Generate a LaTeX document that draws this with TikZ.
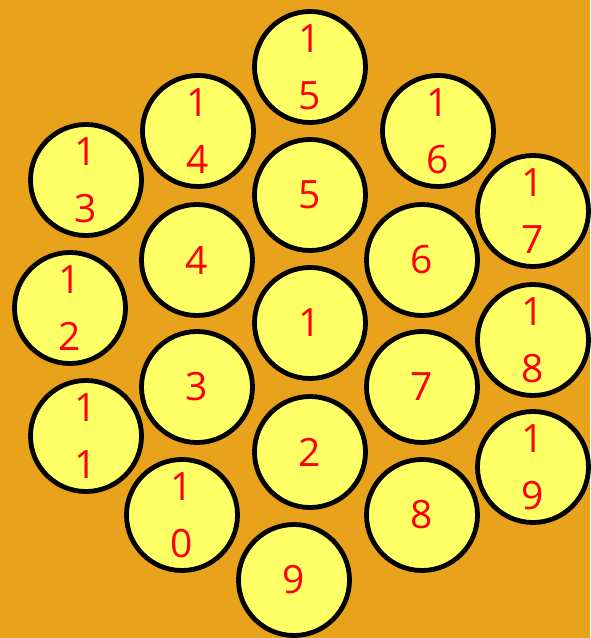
\documentclass[tikz,border=0pt]{standalone}
\usepackage{fontspec}
\setmainfont{Open Sans}
\definecolor{bg}{HTML}{E8A21C}
\definecolor{ball}{HTML}{FFFF66}
\definecolor{num}{HTML}{FF0000}
\begin{document}
\begin{tikzpicture}[x=1pt,y=-1pt,
  ball/.style={circle,draw=black,line width=4.8pt,fill=ball,minimum size=111pt,inner sep=0pt,
    text=num,align=center,font=\fontsize{39}{57}\selectfont}]
\fill[bg] (0,0) rectangle (590,638);
\useasboundingbox (0,0) rectangle (590,638);
\node[ball] (n1) at (310,323) {1};
\node[ball] (n2) at (310,452) {2};
\node[ball] (n3) at (197,387) {3};
\node[ball] (n4) at (197,260) {4};
\node[ball] (n5) at (310,195) {5};
\node[ball] (n6) at (422,260) {6};
\node[ball] (n7) at (422,387) {7};
\node[ball] (n8) at (422,515) {8};
\node[ball] (n9) at (294,580) {9};
\node[ball] (n10) at (182,515) {1\\0};
\node[ball] (n11) at (86,436) {1\\1};
\node[ball] (n12) at (70,308) {1\\2};
\node[ball] (n13) at (86,180) {1\\3};
\node[ball] (n14) at (198,131) {1\\4};
\node[ball] (n15) at (310,67) {1\\5};
\node[ball] (n16) at (438,131) {1\\6};
\node[ball] (n17) at (533,211) {1\\7};
\node[ball] (n18) at (533,340) {1\\8};
\node[ball] (n19) at (533,467) {1\\9};
\end{tikzpicture}
\end{document}
